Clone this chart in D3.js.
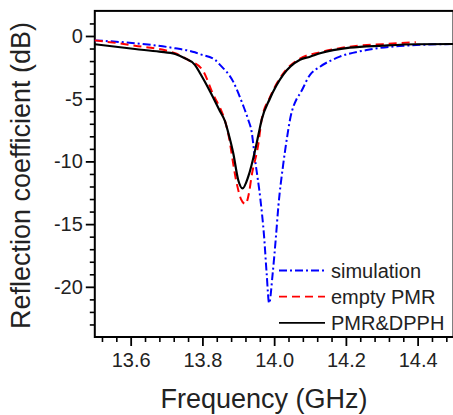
<!DOCTYPE html>
<head>
  <meta charset="utf-8">
  <script src="https://d3js.org/d3.v7.min.js"></script>
  <style>
    body { margin:0; background:#fff; }
    text { font-family: "Liberation Sans", Arial, sans-serif; fill:#222; }
  </style>
</head>
<body>
<svg width="453" height="415"></svg>
<script>

// values
const freqSim = [13.500, 13.612, 13.724, 13.779, 13.793, 13.835, 13.849, 13.885, 13.913, 13.928, 13.937, 13.947,
                 13.962, 13.972, 13.979, 13.986, 13.996, 14.005, 14.012, 14.025, 14.037, 14.044, 14.063, 14.072,
                 14.100, 14.128, 14.183, 14.258, 14.350, 14.500]
const dbSim   = [-0.35, -0.58, -0.98, -1.3, -1.45, -1.9, -2.3, -3.6, -5.5, -6.7, -7.6, -9.9,
                 -13.1, -16.0, -18.9, -21.3, -18.9, -16.0, -13.5, -10.3, -7.9, -6.7, -5.0, -4.6,
                 -3.1, -2.45, -1.65, -1.12, -0.8, -0.64]

const freqEmpty = [13.500, 13.612, 13.724, 13.760, 13.800, 13.826, 13.872, 13.896, 13.9075, 13.920, 13.930, 13.937,
                   13.956, 13.965, 13.988, 14.025, 14.072, 14.128, 14.211, 14.303, 14.395]
const dbEmpty   = [-0.35, -0.77, -1.38, -1.9, -2.7, -4.4, -7.8, -11.8, -13.0, -13.4, -12.5, -11.2,
                   -8.6, -6.7, -4.9, -3.0, -1.8, -1.3, -0.85, -0.65, -0.5]

const freqDpph = [13.500, 13.612, 13.680, 13.724, 13.751, 13.779, 13.793, 13.821, 13.849, 13.863, 13.871, 13.886,
                  13.900, 13.912, 13.928, 13.947, 13.956, 13.965, 13.988, 14.025, 14.072, 14.100, 14.128, 14.211,
                  14.303, 14.397, 14.500]
const dbDpph   = [-0.66, -1.04, -1.25, -1.44, -1.78, -2.3, -2.95, -4.4, -6.0, -6.8, -7.6, -9.35,
                  -11.5, -12.15, -11.2, -9.1, -7.9, -6.7, -5.0, -3.1, -1.9, -1.65, -1.38, -0.93,
                  -0.77, -0.66, -0.64]

const xTicks = [13.6, 13.8, 14.0, 14.2, 14.4]
const yTicks = [0, -5, -10, -15, -20]
const legendNames = ["simulation", "empty PMR", "PMR&DPPH"]

const svg = d3.select("svg")

const x = d3.scaleLinear().domain([13.5, 14.5]).range([94.8, 453.5])
const y = d3.scaleLinear().domain([-24, 2]).range([337, 10.9])

const series = [
  {name: legendNames[0], f: freqSim, v: dbSim, color: "#0000ff", dash: "8,3,2,3", w: 2},
  {name: legendNames[1], f: freqEmpty, v: dbEmpty, color: "#ff0000", dash: "8,5", w: 2},
  {name: legendNames[2], f: freqDpph, v: dbDpph, color: "#000000", dash: null, w: 2.2}
]

// frame
svg.append("rect")
  .attr("x", x(13.5)).attr("y", y(2))
  .attr("width", x(14.5) - x(13.5)).attr("height", y(-24) - y(2))
  .attr("fill", "none").attr("stroke", "#000").attr("stroke-width", 2)

// minor ticks
const xMinor = d3.range(13.52, 14.5, 0.04).filter(d => !xTicks.some(t => Math.abs(t - d) < 1e-6))
const yMinor = d3.range(-23, 2, 1).filter(d => d % 5 !== 0)

svg.append("g").attr("transform", `translate(0,${y(-24)})`)
  .call(d3.axisBottom(x).tickValues(xMinor).tickSize(5).tickFormat(""))
  .call(g => g.select(".domain").remove())
  .selectAll("line").attr("stroke-width", 1.6)

svg.append("g").attr("transform", `translate(${x(13.5)},0)`)
  .call(d3.axisLeft(y).tickValues(yMinor).tickSize(5).tickFormat(""))
  .call(g => g.select(".domain").remove())
  .selectAll("line").attr("stroke-width", 1.6)

// major axes
const xAxis = svg.append("g").attr("transform", `translate(0,${y(-24)})`)
  .call(d3.axisBottom(x).tickValues(xTicks).tickSize(9).tickPadding(7).tickFormat(d3.format(".1f")))
xAxis.select(".domain").remove()
xAxis.selectAll("line").attr("stroke-width", 1.8)
xAxis.selectAll("text").style("font-size", "20px").attr("font-family", null)

const yAxis = svg.append("g").attr("transform", `translate(${x(13.5)},0)`)
  .call(d3.axisLeft(y).tickValues(yTicks).tickSize(9).tickPadding(3).tickFormat(d => d))
yAxis.select(".domain").remove()
yAxis.selectAll("line").attr("stroke-width", 1.8)
yAxis.selectAll("text").style("font-size", "20px").attr("font-family", null)

// curves
const line = d3.line().x(d => x(d[0])).y(d => y(d[1])).curve(d3.curveMonotoneX)

series.forEach(s => {
  svg.append("path")
    .datum(s.f.map((f, i) => [f, s.v[i]]))
    .attr("d", line)
    .attr("fill", "none")
    .attr("stroke", s.color)
    .attr("stroke-width", s.w)
    .attr("stroke-dasharray", s.dash)
})

// legend
const legend = svg.append("g")
series.forEach((s, i) => {
  const ly = 270.5 + i * 26.2
  legend.append("line")
    .attr("x1", 279).attr("x2", 325).attr("y1", ly).attr("y2", ly)
    .attr("stroke", s.color).attr("stroke-width", 1.8)
    .attr("stroke-dasharray", s.dash)
  legend.append("text")
    .attr("x", 331).attr("y", ly + 7.5)
    .style("font-size", "20px")
    .text(s.name)
})

// axis titles
svg.append("text")
  .attr("x", 264).attr("y", 408)
  .attr("text-anchor", "middle")
  .style("font-size", "27px")
  .text("Frequency (GHz)")

svg.append("text")
  .attr("transform", "translate(30,175.5) rotate(-90)")
  .attr("text-anchor", "middle")
  .style("font-size", "27px")
  .text("Reflection coefficient (dB)")

</script>
</body>
